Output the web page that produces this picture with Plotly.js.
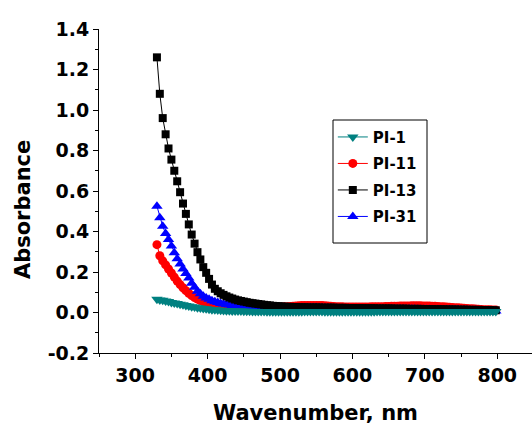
<!DOCTYPE html>
<html>
<head>
<meta charset="utf-8">
<script src="https://cdn.plot.ly/plotly-3.0.1.min.js"></script>
<style>html,body{margin:0;padding:0;background:#fff;}#chart{width:532px;height:429px;}</style>
</head>
<body>
<div id="chart"></div>
<script>
const wavelength = [330,334,338,342,346,350,354,358,362,366,
370,374,378,382,386,390,394,398,402,406,
410,414,418,422,426,430,434,438,442,446,
450,454,458,462,466,470,474,478,482,486,
490,494,498,502,506,510,514,518,522,526,
530,534,538,542,546,550,554,558,562,566,
570,574,578,582,586,590,594,598,602,606,
610,614,618,622,626,630,634,638,642,646,
650,654,658,662,666,670,674,678,682,686,
690,694,698,702,706,710,714,718,722,726,
730,734,738,742,746,750,754,758,762,766,
770,774,778,782,786,790,794,798];

const pi13 = [1.26,1.08,0.96,0.88,0.81,0.755,0.70,0.648,0.594,0.538,
0.487,0.435,0.385,0.34,0.298,0.262,0.224,0.196,0.166,0.138,
0.117,0.105,0.095,0.087,0.080,0.074,0.069,0.064,0.060,0.057,
0.054,0.051,0.048,0.046,0.044,0.042,0.040,0.038,0.036,0.035,
0.033,0.032,0.031,0.030,0.029,0.028,0.028,0.027,0.027,0.026,
0.026,0.026,0.025,0.025,0.025,0.025,0.025,0.024,0.024,0.024,
0.024,0.024,0.023,0.023,0.023,0.023,0.022,0.022,0.022,0.022,
0.022,0.021,0.021,0.021,0.021,0.021,0.020,0.020,0.020,0.020,
0.020,0.020,0.019,0.019,0.019,0.019,0.019,0.018,0.018,0.018,
0.018,0.018,0.017,0.017,0.017,0.017,0.016,0.016,0.016,0.016,
0.015,0.015,0.015,0.015,0.014,0.014,0.014,0.014,0.013,0.013,
0.013,0.013,0.012,0.012,0.012,0.012,0.011,0.011];

const pi31 = [0.525,0.468,0.426,0.39,0.36,0.328,0.295,0.265,0.24,0.215,
0.192,0.17,0.145,0.125,0.105,0.092,0.08,0.072,0.065,0.058,
0.053,0.049,0.045,0.042,0.039,0.037,0.035,0.033,0.031,0.030,
0.029,0.028,0.027,0.026,0.026,0.025,0.025,0.024,0.024,0.024,
0.023,0.023,0.023,0.022,0.022,0.022,0.022,0.022,0.021,0.021,
0.021,0.022,0.022,0.023,0.023,0.023,0.022,0.022,0.021,0.021,
0.020,0.020,0.020,0.019,0.019,0.019,0.019,0.018,0.018,0.018,
0.018,0.017,0.017,0.017,0.017,0.016,0.016,0.016,0.016,0.016,
0.016,0.016,0.016,0.016,0.016,0.016,0.016,0.016,0.016,0.016,
0.015,0.015,0.015,0.015,0.015,0.014,0.014,0.014,0.014,0.013,
0.013,0.013,0.012,0.012,0.012,0.011,0.011,0.011,0.010,0.010,
0.010,0.009,0.009,0.008,0.008,0.008,0.007,0.007];

const pi11 = [0.335,0.28,0.255,0.235,0.215,0.195,0.175,0.155,0.138,0.122,
0.108,0.095,0.084,0.074,0.066,0.059,0.053,0.048,0.044,0.041,
0.038,0.036,0.034,0.032,0.031,0.030,0.029,0.028,0.028,0.027,
0.027,0.027,0.026,0.026,0.026,0.026,0.026,0.026,0.026,0.026,
0.026,0.026,0.027,0.027,0.028,0.029,0.030,0.031,0.032,0.033,
0.034,0.034,0.035,0.035,0.035,0.035,0.035,0.034,0.033,0.032,
0.031,0.030,0.029,0.028,0.028,0.027,0.027,0.027,0.027,0.027,
0.027,0.027,0.027,0.027,0.028,0.028,0.028,0.029,0.029,0.030,
0.030,0.031,0.031,0.031,0.032,0.032,0.032,0.032,0.033,0.033,
0.033,0.033,0.032,0.032,0.032,0.031,0.031,0.030,0.029,0.028,
0.027,0.026,0.025,0.024,0.023,0.022,0.021,0.020,0.019,0.018,
0.017,0.016,0.015,0.014,0.013,0.013,0.012,0.012];

const pi1 = [0.065,0.062,0.060,0.057,0.054,0.050,0.047,0.044,0.041,0.038,
0.035,0.032,0.029,0.027,0.024,0.022,0.020,0.018,0.016,0.014,
0.013,0.012,0.011,0.010,0.009,0.009,0.008,0.008,0.007,0.007,
0.006,0.006,0.006,0.005,0.005,0.005,0.005,0.005,0.004,0.004,
0.004,0.004,0.004,0.004,0.004,0.004,0.004,0.004,0.004,0.004,
0.004,0.005,0.005,0.005,0.005,0.005,0.005,0.005,0.004,0.004,
0.004,0.004,0.004,0.004,0.004,0.004,0.004,0.004,0.004,0.004,
0.004,0.004,0.004,0.004,0.004,0.004,0.005,0.005,0.005,0.005,
0.005,0.005,0.005,0.005,0.005,0.005,0.005,0.005,0.005,0.005,
0.005,0.005,0.005,0.005,0.005,0.005,0.005,0.005,0.005,0.005,
0.005,0.005,0.005,0.005,0.005,0.005,0.005,0.005,0.005,0.005,
0.005,0.005,0.005,0.005,0.005,0.005,0.005,0.005];

const xTicks = [300,400,500,600,700,800];
const yTicks = [-0.2,0,0.2,0.4,0.6,0.8,1.0,1.2,1.4];
const yTickText = ['-0.2','0.0','0.2','0.4','0.6','0.8','1.0','1.2','1.4'];
const colors = {'PI-1':'#008080','PI-11':'#ff0000','PI-13':'#000000','PI-31':'#0000ff'};

function tr(name, y, symbol, size, rank) {
  return {
    x: wavelength, y: y, name: name, type: 'scatter', mode: 'lines+markers',
    line: {color: colors[name], width: 1},
    marker: {symbol: symbol, size: size, color: colors[name]},
    legendrank: rank, legendgroup: name
  };
}

const data = [
  tr('PI-11', pi11, 'circle', 9, 2),
  tr('PI-31', pi31, 'triangle-up', 10, 4),
  tr('PI-13', pi13, 'square', 8, 3),
  tr('PI-1', pi1, 'triangle-down', 10, 1)
];

const F = 'DejaVu Sans, Liberation Sans, Arial, sans-serif';
const layout = {
  width: 532, height: 429,
  margin: {l: 99, r: 0, t: 29, b: 76},
  paper_bgcolor: '#fff', plot_bgcolor: '#fff',
  showlegend: true,
  legend: {
    x: 0.54, y: 0.717, xanchor: 'left', yanchor: 'top',
    borderwidth: 0, bgcolor: 'rgba(0,0,0,0)',
    font: {family: F, size: 15, color: '#000', weight: 'bold'},
    traceorder: 'grouped', tracegroupgap: 4
  },
  shapes: [{
    type: 'rect', xref: 'paper', yref: 'paper',
    x0: (333 - 99) / 433, x1: (427 - 99) / 433,
    y0: (353 - 243) / 324, y1: (353 - 120) / 324,
    line: {color: '#000', width: 1}, fillcolor: 'rgba(0,0,0,0)', layer: 'above'
  }],
  xaxis: {
    range: [250, 848], tickvals: xTicks,
    ticks: 'outside', ticklen: 5, tickwidth: 1, tickcolor: '#000',
    minor: {ticks: 'outside', ticklen: 3, dtick: 50, tick0: 250, tickcolor: '#000'},
    showline: true, linecolor: '#000', linewidth: 1, mirror: false,
    showgrid: false, zeroline: false,
    tickfont: {family: F, size: 19, color: '#000', weight: 'bold'},
    title: {text: 'Wavenumber, nm', standoff: 20, font: {family: F, size: 21, color: '#000', weight: 'bold'}}
  },
  yaxis: {
    range: [-0.2, 1.4], tickvals: yTicks, ticktext: yTickText,
    ticks: 'outside', ticklen: 5, tickwidth: 1, tickcolor: '#000',
    minor: {ticks: 'outside', ticklen: 3, dtick: 0.1, tick0: -0.2, tickcolor: '#000'},
    showline: true, linecolor: '#000', linewidth: 1, mirror: false,
    showgrid: false, zeroline: false,
    tickfont: {family: F, size: 19, color: '#000', weight: 'bold'}
  },
  annotations: [{
    text: 'Absorbance', textangle: -90, xref: 'paper', yref: 'paper',
    x: -0.1755, y: 0.441, xanchor: 'center', yanchor: 'middle', showarrow: false,
    font: {family: F, size: 21, color: '#000', weight: 'bold'}
  }]
};

Plotly.newPlot('chart', data, layout, {displayModeBar: false, staticPlot: true});
</script>
</body>
</html>
